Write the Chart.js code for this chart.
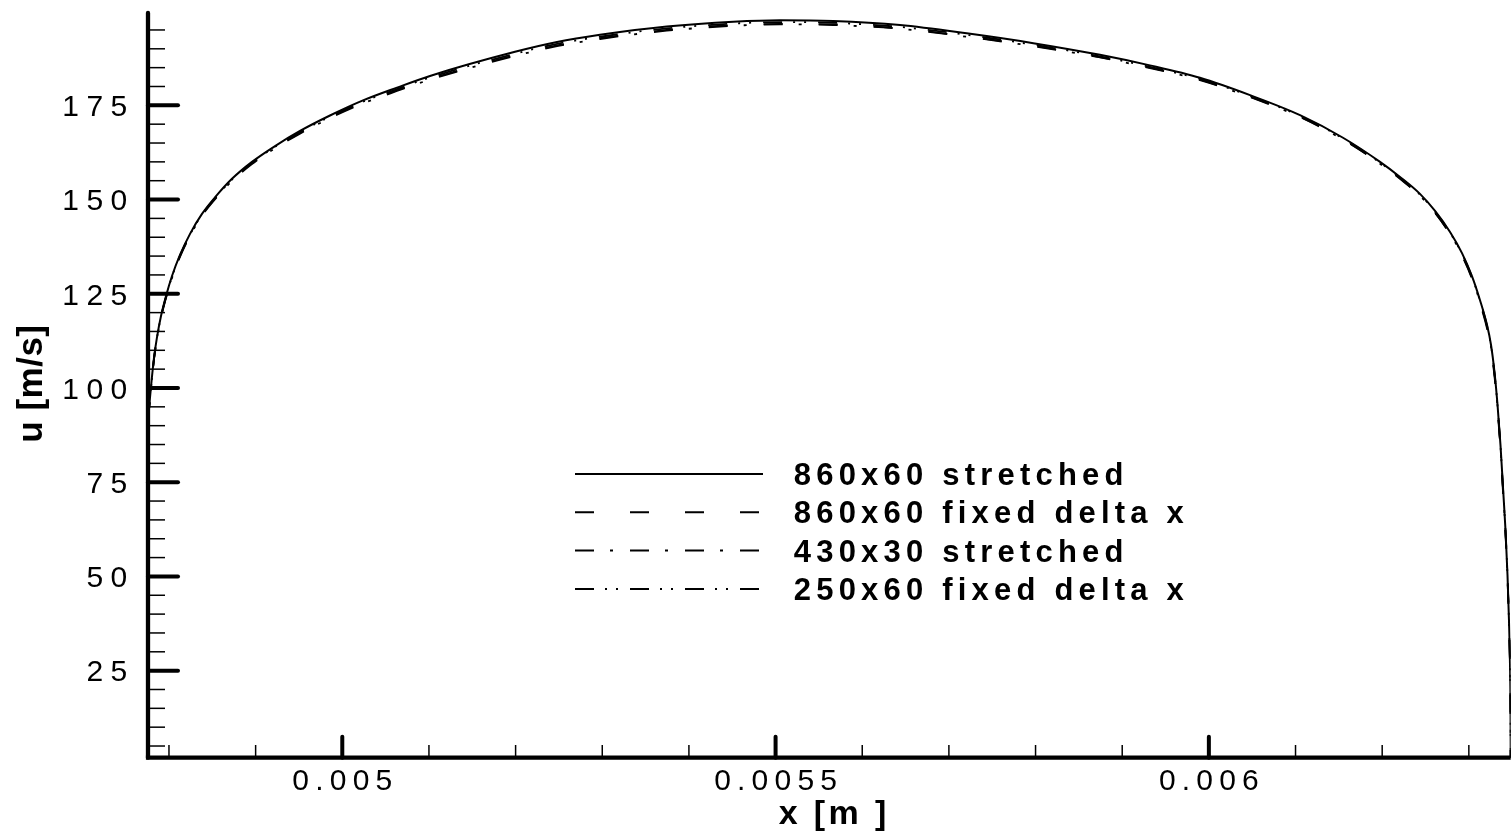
<!DOCTYPE html>
<html>
<head>
<meta charset="utf-8">
<title>u [m/s] vs x [m]</title>
<script src="https://cdn.jsdelivr.net/npm/chart.js@4.4.1/dist/chart.umd.min.js"></script>
<style>
  html, body { margin: 0; padding: 0; background: #ffffff; }
  canvas { display: block; }
</style>
</head>
<body>
<canvas id="profile" width="1512" height="837"></canvas>
<script>
// Axis ranges
const X_MIN = 0.0047758, X_MAX = 0.0063483;
const Y_MIN = 1.9, Y_MAX = 199.5;

// Tick values and labels
const xTickValues = [0.005, 0.0055, 0.006];
const xTickLabels = ['0.005', '0.0055', '0.006'];
const yTickValues = [25, 50, 75, 100, 125, 150, 175];
const yTickLabels = ['25', '50', '75', '100', '125', '150', '175'];
const xMinorStep = 0.0001;
const yMinorStep = 5;

const xTitle = 'x [m ]';
const yTitle = 'u [m/s]';

// Sample positions along x [m]
const xPos = [
  0.0047758, 0.0047775, 0.0047798, 0.0047827, 0.0047862, 0.0047908, 0.0047966, 0.0048035,
  0.0048127, 0.0048243, 0.0048381, 0.0048543, 0.0048727, 0.0048958, 0.0049224, 0.0049512,
  0.0049858, 0.0050239, 0.0050631, 0.0051012,
  0.0051993, 0.0052478, 0.0052974, 0.0053744, 0.0054512, 0.0055051, 0.0055666, 0.0056436,
  0.0057205, 0.0057974, 0.0058743, 0.0059320, 0.0059897, 0.0060475,
  0.0061052, 0.0061548, 0.0061975, 0.0062206, 0.0062436, 0.0062610, 0.0062783, 0.0062921,
  0.0063036, 0.0063129, 0.0063210, 0.0063256, 0.0063296, 0.0063331, 0.0063365, 0.0063396,
  0.0063423, 0.0063446, 0.0063463, 0.0063475, 0.0063481, 0.0063483
];

// Velocity u [m/s] for each grid
const u860x60Stretched = [
  91.5, 96.0, 101.6, 108.0, 113.5, 119.1, 124.4, 129.7,
  135.3, 140.9, 146.2, 150.9, 155.5, 160.0, 164.2, 168.2,
  172.3, 176.3, 179.7, 182.8,
  189.2, 191.8, 193.7, 195.9, 197.2, 197.6, 197.4, 196.3,
  194.1, 191.5, 188.4, 185.6, 182.3, 177.7,
  172.4, 166.4, 160.0, 156.0, 151.5, 147.0, 141.4, 135.8,
  129.7, 123.3, 116.7, 111.4, 104.2, 95.5, 84.9, 72.9,
  62.3, 50.4, 38.4, 26.5, 14.6, 1.9
];
const u860x60Fixed = [
  91.2, 95.7, 101.3, 107.7, 113.2, 118.8, 124.1, 129.4,
  135.0, 140.6, 145.9, 150.6, 155.1, 159.6, 163.8, 167.7,
  171.8, 175.7, 179.0, 182.0,
  188.3, 190.9, 192.8, 195.0, 196.3, 196.6, 196.5, 195.4,
  193.3, 190.8, 187.8, 185.0, 181.8, 177.3,
  172.0, 166.0, 159.6, 155.6, 151.0, 146.5, 140.8, 135.1,
  129.0, 122.5, 115.8, 110.4, 103.1, 94.3, 83.6, 71.6,
  61.1, 49.3, 37.6, 25.8, 14.2, 1.9
];
const u430x30Stretched = [
  91.0, 95.5, 101.1, 107.5, 113.0, 118.6, 123.9, 129.2,
  134.8, 140.4, 145.7, 150.4, 154.9, 159.4, 163.6, 167.5,
  171.6, 175.5, 178.8, 181.8,
  188.1, 190.7, 192.6, 194.8, 196.1, 196.5, 196.3, 195.3,
  193.2, 190.7, 187.7, 184.9, 181.7, 177.2,
  171.9, 165.9, 159.5, 155.5, 151.0, 146.5, 140.9, 135.3,
  129.2, 122.8, 116.2, 110.9, 103.7, 95.0, 84.4, 72.4,
  61.8, 49.9, 38.0, 26.2, 14.4, 1.9
];
const u250x60Fixed = [
  91.3, 95.8, 101.4, 107.8, 113.3, 118.9, 124.2, 129.5,
  135.1, 140.7, 146.0, 150.7, 155.3, 159.8, 164.0, 167.9,
  172.0, 176.0, 179.3, 182.4,
  188.7, 191.3, 193.2, 195.4, 196.7, 197.1, 196.9, 195.8,
  193.7, 191.1, 188.0, 185.2, 182.0, 177.5,
  172.2, 166.2, 159.8, 155.8, 151.3, 146.8, 141.2, 135.6,
  129.5, 123.1, 116.5, 111.2, 104.0, 95.3, 84.7, 72.7,
  62.1, 50.2, 38.2, 26.4, 14.5, 1.9
];

const seriesLabels = ['860x60 stretched', '860x60 fixed delta x', '430x30 stretched', '250x60 fixed delta x'];
const seriesValues = [u860x60Stretched, u860x60Fixed, u430x30Stretched, u250x60Fixed];
const seriesDashes = [[], [19, 36], [19, 16, 3, 17], [19, 11, 2, 9, 2, 12]];

const FONT = '"Liberation Sans", Arial, Helvetica, sans-serif';

// Text drawn glyph by glyph with extra tracking between characters
function trackedWidth(ctx, text, sp) {
  let w = 0;
  for (const ch of text) w += ctx.measureText(ch).width;
  return w + sp * (text.length - 1);
}
function drawTracked(ctx, text, x, y, align, sp) {
  const w = trackedWidth(ctx, text, sp);
  let cx = align === 'center' ? x - w / 2 : (align === 'right' ? x - w : x);
  ctx.textAlign = 'left';
  for (const ch of text) {
    ctx.fillText(ch, cx, y);
    cx += ctx.measureText(ch).width + sp;
  }
}
function seg(ctx, x1, y1, x2, y2) {
  ctx.beginPath();
  ctx.moveTo(x1, y1);
  ctx.lineTo(x2, y2);
  ctx.stroke();
}

// Axis lines with inward ticks, tick labels and axis titles
const frameAxes = {
  id: 'frameAxes',
  afterDatasetsDraw(chart) {
    const ctx = chart.ctx;
    const xs = chart.scales.x, ys = chart.scales.y, ca = chart.chartArea;
    ctx.save();
    ctx.strokeStyle = '#000';
    ctx.fillStyle = '#000';

    // minor ticks
    ctx.lineWidth = 1.5;
    ctx.lineCap = 'butt';
    for (let k = 1; k * yMinorStep < Y_MAX; k++) {
      if (k % 5 === 0) continue;
      const py = ys.getPixelForValue(k * yMinorStep);
      seg(ctx, ca.left, py, ca.left + 17, py);
    }
    const kx0 = Math.ceil(X_MIN / xMinorStep), kx1 = Math.floor(X_MAX / xMinorStep);
    for (let k = kx0; k <= kx1; k++) {
      if (k % 5 === 0) continue;
      const px = xs.getPixelForValue(k * xMinorStep);
      seg(ctx, px, ca.bottom, px, ca.bottom - 12.7);
    }

    // major ticks
    ctx.lineWidth = 4;
    ctx.lineCap = 'round';
    yTickValues.forEach(v => {
      const py = ys.getPixelForValue(v);
      seg(ctx, ca.left, py, ca.left + 30, py);
    });
    xTickValues.forEach(v => {
      const px = xs.getPixelForValue(v);
      seg(ctx, px, ca.bottom, px, ca.bottom - 21);
    });

    // axis lines
    ctx.lineWidth = 4.3;
    ctx.lineCap = 'round';
    seg(ctx, ca.left, ca.top, ca.left, ca.bottom);
    ctx.lineCap = 'butt';
    seg(ctx, ca.left - 2.1, ca.bottom, ca.right, ca.bottom);

    // tick labels
    ctx.font = '30px ' + FONT;
    ctx.textBaseline = 'alphabetic';
    yTickValues.forEach((v, i) => {
      const py = ys.getPixelForValue(v);
      drawTracked(ctx, yTickLabels[i], 127.3, py + 10.8, 'right', 7.5);
    });
    xTickValues.forEach((v, i) => {
      const px = xs.getPixelForValue(v);
      drawTracked(ctx, xTickLabels[i], px, 790, 'center', 6.2);
    });

    // axis titles
    ctx.font = 'bold 34px ' + FONT;
    drawTracked(ctx, xTitle, 832.5, 823.5, 'center', 3.4);
    ctx.font = 'bold 35px ' + FONT;
    ctx.translate(41.5, (ca.top + ca.bottom) / 2 - 1.5);
    ctx.rotate(-Math.PI / 2);
    drawTracked(ctx, yTitle, 0, 0, 'center', 0.5);
    ctx.restore();
  }
};

// Line-style key placed inside the plot
const lineKey = {
  id: 'lineKey',
  afterDatasetsDraw(chart) {
    const ctx = chart.ctx;
    ctx.save();
    ctx.strokeStyle = '#000';
    ctx.fillStyle = '#000';
    ctx.font = 'bold 31px ' + FONT;
    ctx.textBaseline = 'alphabetic';
    chart.data.datasets.forEach((ds, i) => {
      const y = 474 + i * 38.3;
      ctx.lineWidth = 2;
      ctx.lineCap = 'butt';
      ctx.setLineDash(ds.borderDash || []);
      seg(ctx, 575, y, 763, y);
      ctx.setLineDash([]);
      drawTracked(ctx, ds.label, 793.8, y + 11, 'left', 5.2);
    });
    ctx.restore();
  }
};

const datasets = seriesLabels.map((label, i) => ({
  label: label,
  data: xPos.map((x, j) => ({ x: x, y: seriesValues[i][j] })),
  showLine: true,
  borderColor: '#000000',
  backgroundColor: '#000000',
  borderWidth: i === 0 ? 2 : 1.8,
  borderDash: seriesDashes[i],
  pointRadius: 0,
  fill: false,
  cubicInterpolationMode: 'monotone'
}));

new Chart(document.getElementById('profile'), {
  type: 'scatter',
  data: { datasets: datasets },
  options: {
    responsive: false,
    animation: false,
    events: [],
    layout: { padding: { left: 148, right: 1.3, top: 13, bottom: 79.3 } },
    plugins: { legend: { display: false }, tooltip: { enabled: false } },
    scales: {
      x: {
        type: 'linear', min: X_MIN, max: X_MAX,
        grid: { display: false }, border: { display: false },
        ticks: { display: false },
        title: { display: false, text: xTitle },
        afterBuildTicks: s => { s.ticks = xTickValues.map(v => ({ value: v })); },
        afterFit: s => { s.height = 0; }
      },
      y: {
        type: 'linear', min: Y_MIN, max: Y_MAX,
        grid: { display: false }, border: { display: false },
        ticks: { display: false },
        title: { display: false, text: yTitle },
        afterBuildTicks: s => { s.ticks = yTickValues.map(v => ({ value: v })); },
        afterFit: s => { s.width = 0; }
      }
    }
  },
  plugins: [frameAxes, lineKey]
});
</script>
</body>
</html>
